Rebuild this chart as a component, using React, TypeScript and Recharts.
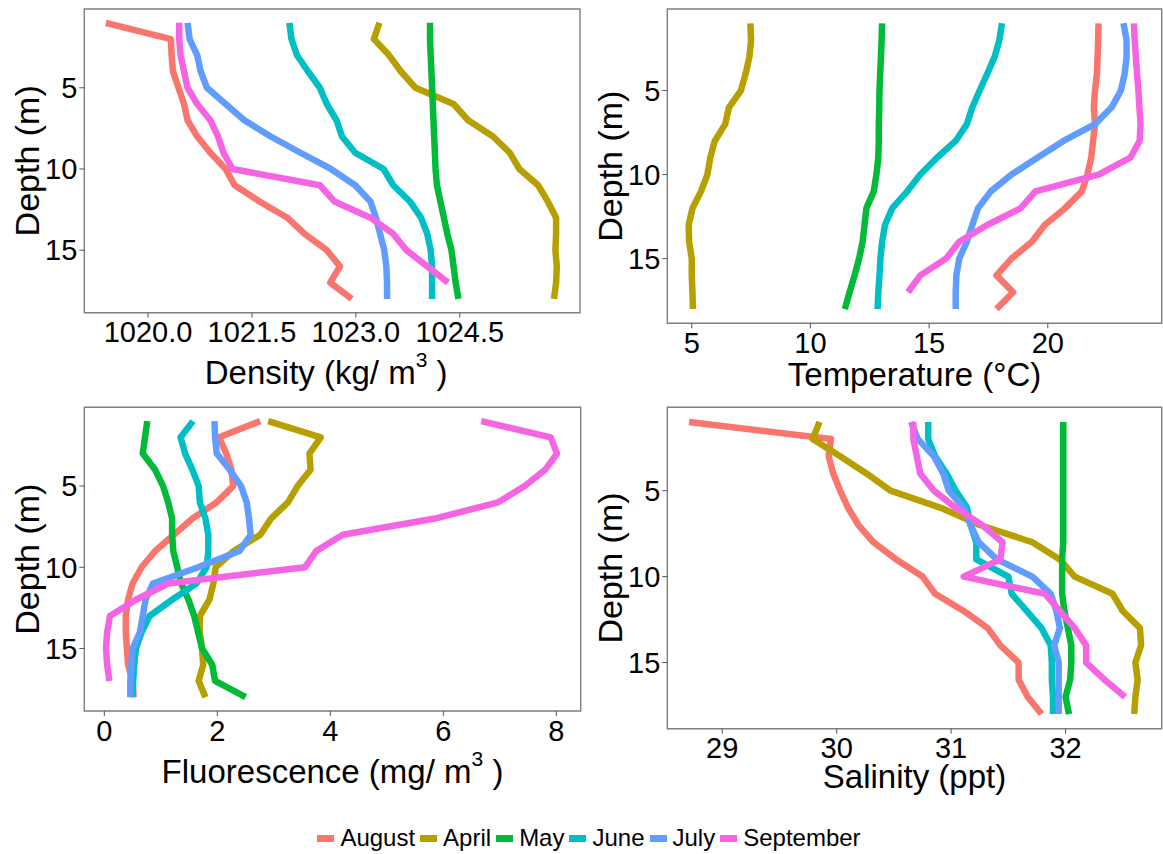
import React from 'react';
import { ScatterChart, Scatter, XAxis, YAxis, ReferenceArea } from 'recharts';

const MONTHS = ['August', 'April', 'May', 'June', 'July', 'September'];
const COLORS = ['#F8766D', '#B79F00', '#00BA38', '#00BFC4', '#619CFF', '#F564E3'];
const DEPTHS = [1, 2, 3, 4, 5, 6, 7, 8, 9, 10, 11, 12, 13, 14, 15, 16, 17, 18];
const DEPTH_TICKS = [5, 10, 15];

const DENSITY: Record<string, number[]> = {
  August: [1019.39, 1020.33, 1020.34, 1020.36, 1020.44, 1020.52, 1020.57, 1020.71, 1020.9, 1021.12, 1021.25, 1021.61, 1022.01, 1022.26, 1022.58, 1022.77, 1022.63, 1022.94],
  April: [1023.34, 1023.26, 1023.48, 1023.65, 1023.86, 1024.41, 1024.62, 1024.98, 1025.22, 1025.36, 1025.63, 1025.77, 1025.89, 1025.89, 1025.88, 1025.9, 1025.89, 1025.86],
  May: [1024.07, 1024.07, 1024.08, 1024.09, 1024.1, 1024.11, 1024.12, 1024.13, 1024.14, 1024.15, 1024.17, 1024.22, 1024.27, 1024.32, 1024.38, 1024.41, 1024.44, 1024.48],
  June: [1022.04, 1022.07, 1022.15, 1022.31, 1022.48, 1022.58, 1022.72, 1022.8, 1022.99, 1023.4, 1023.54, 1023.78, 1023.94, 1024.03, 1024.08, 1024.1, 1024.1, 1024.1],
  July: [1020.57, 1020.6, 1020.71, 1020.76, 1020.85, 1021.12, 1021.39, 1021.77, 1022.2, 1022.64, 1022.99, 1023.21, 1023.29, 1023.35, 1023.41, 1023.44, 1023.45, 1023.45],
  September: [1020.45, 1020.45, 1020.47, 1020.52, 1020.57, 1020.71, 1020.9, 1021.01, 1021.09, 1021.22, 1022.48, 1022.69, 1023.21, 1023.54, 1023.73, 1024.03, 1024.33],
};

const TEMPERATURE: Record<string, number[]> = {
  August: [22.14, 22.12, 22.1, 22.07, 21.99, 21.94, 21.99, 21.91, 21.83, 21.67, 21.44, 20.73, 19.87, 19.33, 18.47, 17.84, 18.54, 17.84],
  April: [7.47, 7.5, 7.43, 7.27, 7.07, 6.57, 6.41, 5.97, 5.78, 5.66, 5.39, 5.03, 4.87, 4.89, 5.0, 5.0, 5.03, 5.05],
  May: [13.02, 13.0, 12.97, 12.94, 12.91, 12.9, 12.88, 12.88, 12.86, 12.78, 12.67, 12.36, 12.28, 12.2, 12.05, 11.86, 11.65, 11.45],
  June: [18.07, 17.96, 17.76, 17.45, 17.13, 16.82, 16.59, 16.12, 15.33, 14.63, 14.08, 13.45, 13.14, 13.02, 12.95, 12.91, 12.86, 12.83],
  July: [23.19, 23.32, 23.32, 23.24, 23.08, 22.69, 21.99, 20.66, 19.56, 18.47, 17.6, 17.06, 16.82, 16.59, 16.27, 16.15, 16.12, 16.12],
  September: [23.63, 23.66, 23.71, 23.76, 23.82, 23.86, 23.91, 23.87, 23.48, 22.14, 19.48, 18.86, 17.45, 16.27, 15.72, 14.63, 14.11],
};

const FLUORESCENCE: Record<string, number[]> = {
  August: [2.76, 2.03, 2.16, 2.25, 2.28, 1.99, 1.56, 1.23, 0.9, 0.66, 0.5, 0.42, 0.38, 0.38, 0.4, 0.42, 0.5, 0.52],
  April: [2.9, 3.83, 3.63, 3.65, 3.42, 3.25, 2.95, 2.76, 2.29, 1.97, 1.93, 1.86, 1.69, 1.69, 1.73, 1.75, 1.67, 1.79],
  May: [0.76, 0.72, 0.68, 0.9, 1.04, 1.13, 1.2, 1.2, 1.22, 1.29, 1.36, 1.49, 1.59, 1.66, 1.73, 1.91, 1.96, 2.5],
  June: [1.57, 1.35, 1.43, 1.56, 1.67, 1.69, 1.79, 1.84, 1.84, 1.81, 1.63, 1.2, 0.8, 0.66, 0.56, 0.53, 0.51, 0.5],
  July: [1.95, 1.96, 1.99, 2.22, 2.42, 2.52, 2.56, 2.59, 2.39, 1.66, 0.86, 0.73, 0.68, 0.63, 0.5, 0.48, 0.46, 0.46],
  September: [6.67, 7.9, 8.01, 7.8, 7.44, 6.97, 5.85, 4.22, 3.75, 3.55, 1.13, 0.56, 0.1, 0.05, 0.03, 0.05, 0.09],
};

const SALINITY: Record<string, number[]> = {
  August: [28.71, 29.95, 29.93, 29.97, 30.03, 30.1, 30.19, 30.32, 30.52, 30.75, 30.86, 31.11, 31.32, 31.43, 31.59, 31.59, 31.67, 31.79],
  April: [29.85, 29.79, 30.03, 30.26, 30.47, 30.91, 31.25, 31.71, 31.95, 32.08, 32.41, 32.5, 32.65, 32.66, 32.61, 32.63, 32.61, 32.6],
  May: [31.98, 31.98, 31.98, 31.98, 31.98, 31.98, 31.98, 31.98, 31.97, 31.97, 31.97, 31.99, 32.02, 32.05, 32.05, 32.04, 32.0, 32.03],
  June: [30.8, 30.8, 30.86, 30.96, 31.04, 31.14, 31.17, 31.22, 31.22, 31.5, 31.53, 31.66, 31.79, 31.87, 31.88, 31.88, 31.89, 31.89],
  July: [30.65, 30.71, 30.85, 30.93, 30.98, 31.11, 31.17, 31.24, 31.4, 31.71, 31.87, 31.92, 31.95, 31.9, 31.94, 31.94, 31.94, 31.94],
  September: [30.67, 30.67, 30.7, 30.73, 30.85, 31.04, 31.27, 31.45, 31.43, 31.11, 31.82, 31.95, 32.08, 32.18, 32.18, 32.34, 32.52],
};

const FONT = '"Liberation Sans", Arial, Helvetica, sans-serif';
const Y_DOMAIN: [number, number] = [0.15, 18.85];
const Y_AXIS_WIDTH = 84.3;
const TITLE_SIZE = 33;

const toPoints = (values: number[]) => values.map((v, i) => ({ x: v, y: DEPTHS[i] }));
const noDot = () => <g />;

function YTitle(props: any) {
  const vb = props.viewBox;
  if (!vb) return null;
  const cx = vb.x + 27;
  const cy = vb.y + vb.height / 2;
  return (
    <text x={cx} y={cy} transform={`rotate(-90 ${cx} ${cy})`} textAnchor="middle" dominantBaseline="central"
      fontSize={34} fontFamily={FONT} fill="#000">
      Depth (m)
    </text>
  );
}

function XTitle(props: any) {
  const vb = props.viewBox;
  if (!vb) return null;
  const cx = vb.x + vb.width / 2 + (props.dx || 0);
  const y = vb.y + props.offsetY;
  return (
    <text x={cx} y={y} textAnchor="middle" fontSize={TITLE_SIZE} fontFamily={FONT} fill="#000">
      {props.text}
      {props.sup && (
        <>
          <tspan fontSize={21} dy={-17}>{props.sup}</tspan>
          <tspan dy={17}> )</tspan>
        </>
      )}
    </text>
  );
}

type PanelProps = {
  left: number;
  top: number;
  width: number;
  margin: { top: number; right: number; bottom: number; left: number };
  xAxisHeight: number;
  data: Record<string, number[]>;
  xDomain: [number, number];
  xTicks: number[];
  tickFormat?: (v: number) => string;
  title: string;
  sup?: string;
  titleY: number;
  titleDx?: number;
};

function Panel({ left, top, width, margin, xAxisHeight, data, xDomain, xTicks, tickFormat, title, sup, titleY, titleDx }: PanelProps) {
  const tickStyle = { fill: '#000', fontSize: 29, fontFamily: FONT };
  return (
    <div style={{ position: 'absolute', left, top }}>
      <ScatterChart width={width} height={400} margin={margin}>
        <XAxis
          type="number"
          dataKey="x"
          domain={xDomain}
          ticks={xTicks}
          interval={0}
          allowDataOverflow
          axisLine={false}
          tickLine={{ stroke: '#555' }}
          tickSize={5}
          tickMargin={4}
          height={xAxisHeight}
          tick={tickStyle}
          tickFormatter={tickFormat}
          label={<XTitle text={title} sup={sup} offsetY={titleY} dx={titleDx} />}
        />
        <YAxis
          type="number"
          dataKey="y"
          reversed
          domain={Y_DOMAIN}
          ticks={DEPTH_TICKS}
          interval={0}
          allowDataOverflow
          axisLine={false}
          tickLine={{ stroke: '#555' }}
          tickSize={5}
          tickMargin={2}
          width={Y_AXIS_WIDTH}
          tick={tickStyle}
          label={<YTitle />}
        />
        <ReferenceArea x1={xDomain[0]} x2={xDomain[1]} y1={Y_DOMAIN[0]} y2={Y_DOMAIN[1]}
          fill="none" stroke="#7f7f7f" strokeWidth={1.4} />
        {MONTHS.map((m, i) => (
          <Scatter
            key={m}
            name={m}
            data={toPoints(data[m])}
            line={{ stroke: COLORS[i], strokeWidth: 6.5, strokeLinejoin: 'round' }}
            shape={noDot}
            legendType="none"
            isAnimationActive={false}
          />
        ))}
      </ScatterChart>
    </div>
  );
}

function MonthLegend() {
  return (
    <div style={{
      position: 'absolute', left: 0, top: 823, width: 1183, height: 30,
      display: 'flex', justifyContent: 'center', alignItems: 'center',
      fontFamily: FONT, fontSize: 24, color: '#000',
    }}>
      {MONTHS.map((m, i) => (
        <div key={m} style={{ display: 'flex', alignItems: 'center', marginRight: 5 }}>
          <span style={{ display: 'inline-block', width: 17, height: 7, background: COLORS[i], marginRight: 6 }} />
          <span>{m}</span>
        </div>
      ))}
    </div>
  );
}

export default function App() {
  return (
    <div style={{ position: 'absolute', left: 0, top: 0, width: 1163, height: 854, background: '#fff', overflow: 'hidden' }}>
      <Panel
        left={0} top={0} width={600}
        margin={{ top: 9, right: 20, bottom: 7.3, left: 0 }}
        xAxisHeight={80}
        data={DENSITY}
        xDomain={[1019.08, 1026.235]}
        xTicks={[1020, 1021.5, 1023, 1024.5]}
        tickFormat={(v) => v.toFixed(1)}
        title="Density (kg/ m"
        sup="3"
        titleY={71}
        titleDx={-6}
      />
      <Panel
        left={583} top={0} width={580}
        margin={{ top: 9, right: 1.3, bottom: 6.7, left: 0 }}
        xAxisHeight={70}
        data={TEMPERATURE}
        xDomain={[3.97, 24.8]}
        xTicks={[5, 10, 15, 20]}
        title="Temperature (°C)"
        titleY={63}
      />
      <Panel
        left={0} top={400} width={600}
        margin={{ top: 7.3, right: 19.3, bottom: 9, left: 0 }}
        xAxisHeight={80}
        data={FLUORESCENCE}
        xDomain={[-0.354, 8.43]}
        xTicks={[0, 2, 4, 6, 8]}
        title="Fluorescence (mg/ m"
        sup="3"
        titleY={72}
      />
      <Panel
        left={583} top={400} width={580}
        margin={{ top: 7.3, right: 1.3, bottom: 6.3, left: 0 }}
        xAxisHeight={65}
        data={SALINITY}
        xDomain={[28.52, 32.84]}
        xTicks={[29, 30, 31, 32]}
        title="Salinity (ppt)"
        titleY={59}
      />
      <MonthLegend />
    </div>
  );
}
